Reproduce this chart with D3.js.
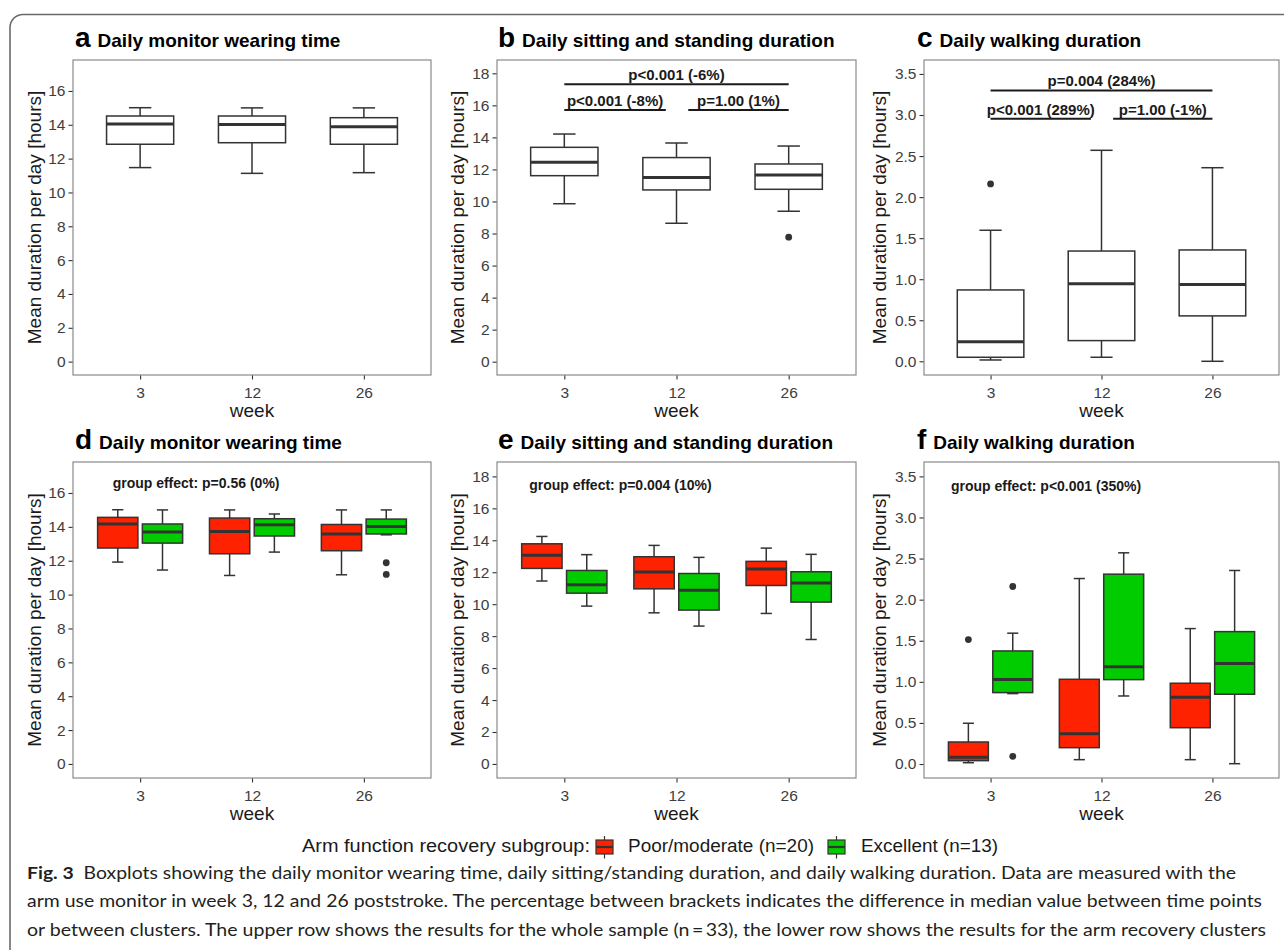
<!DOCTYPE html>
<html><head><meta charset="utf-8">
<script src="https://cdn.jsdelivr.net/npm/d3@7"></script>
<style>
body{margin:0;background:#fff;}
svg{display:block;font-family:"Liberation Sans",Arial,sans-serif;}
</style></head>
<body><svg id="c" width="1284" height="950"></svg>
<script>
// ---------- data ----------
const weeks = ["3","12","26"];
const groupNames = ["Poor/moderate (n=20)","Excellent (n=13)"];
const groupColors = ["#FF2200","#00CC00"];
// box stats: [lower whisker, Q1, median, Q3, upper whisker]
const wearAll = [[11.47,12.85,14.05,14.52,15.01],[11.13,12.94,14.01,14.52,15.0],[11.17,12.85,13.89,14.42,15.0]];
const wearAllOut = [[],[],[]];
const sitAll = [[9.86,11.61,12.45,13.38,14.21],[8.64,10.72,11.49,12.74,13.65],[9.39,10.76,11.65,12.34,13.46]];
const sitAllOut = [[],[],[7.77]];
const walkAll = [[0.016,0.049,0.239,0.869,1.596],[0.049,0.252,0.945,1.343,2.57],[0.0,0.553,0.934,1.356,2.358]];
const walkAllOut = [[2.16],[],[]];

const wearPoor = [[11.92,12.75,14.17,14.56,15.01],[11.13,12.41,13.73,14.52,15.0],[11.17,12.59,13.58,14.14,15.0]];
const wearPoorOut = [[],[],[]];
const wearExc = [[11.45,13.04,13.70,14.17,15.0],[12.51,13.46,14.13,14.48,14.76],[13.53,13.58,14.02,14.46,15.0]];
const wearExcOut = [[],[],[11.88,11.19]];
const sitPoor = [[11.45,12.24,13.07,13.78,14.24],[9.46,10.96,12.01,12.97,13.68],[9.42,11.17,12.20,12.68,13.51]];
const sitPoorOut = [[],[],[]];
const sitExc = [[9.88,10.69,11.22,12.11,13.10],[8.63,9.63,10.88,11.92,12.93],[7.79,10.13,11.32,12.03,13.12]];
const sitExcOut = [[],[],[]];
const walkPoor = [[0.016,0.041,0.081,0.268,0.496],[0.053,0.199,0.369,1.031,2.257],[0.053,0.442,0.812,0.983,1.648]];
const walkPoorOut = [[1.514],[],[]];
const walkExc = [[0.857,0.869,1.027,1.376,1.592],[0.828,1.027,1.185,2.31,2.57],[0.004,0.849,1.222,1.611,2.355]];
const walkExcOut = [[2.16,0.094],[],[]];

// significance brackets: [label, y-value (hours)]
const sitBrackets = [["p<0.001 (-6%)",17.32],["p<0.001 (-8%)",15.71],["p=1.00 (1%)",15.71]];
const walkBrackets = [["p=0.004 (284%)",3.30],["p<0.001 (289%)",2.955],["p=1.00 (-1%)",2.955]];
const groupEffects = ["group effect: p=0.56 (0%)","group effect: p=0.004 (10%)","group effect: p<0.001 (350%)"];

const ticksWear = [0,2,4,6,8,10,12,14,16];
const ticksSit = [0,2,4,6,8,10,12,14,16,18];
const ticksWalk = [0,0.5,1,1.5,2,2.5,3,3.5];

const titles = [["a","Daily monitor wearing time"],["b","Daily sitting and standing duration"],["c","Daily walking duration"],
                ["d","Daily monitor wearing time"],["e","Daily sitting and standing duration"],["f","Daily walking duration"]];
const legendTitle = "Arm function recovery subgroup:";
const captionLines = [
 ["Fig. 3","  Boxplots showing the daily monitor wearing time, daily sitting/standing duration, and daily walking duration. Data are measured with the"],
 ["","arm use monitor in week 3, 12 and 26 poststroke. The percentage between brackets indicates the difference in median value between time points"],
 ["","or between clusters. The upper row shows the results for the whole sample (n\u2009=\u200933), the lower row shows the results for the arm recovery clusters"]
];

// ---------- drawing ----------
const svg = d3.select("#c");
svg.append("rect").attr("width",1284).attr("height",950).attr("fill","#fff");
svg.append("rect").attr("x",10).attr("y",14.5).attr("width",1300).attr("height",1000).attr("rx",13)
   .attr("fill","none").attr("stroke","#6a6a6a").attr("stroke-width",1.6);

const cols = [[73,431],[497,856],[924,1279]];
const rows = [[60,375],[462,778]];
const ink = "#333333";

function panel(ci, ri, domain, ticks, fmt, series, outs, colors, titleIdx){
  const [L,R] = cols[ci], [T,B] = rows[ri];
  const g = svg.append("g");
  const x = d3.scalePoint().domain(weeks).range([L,R]).padding(0.6);
  const step = x.step();
  const y = d3.scaleLinear().domain(domain).range([B,T]);

  const ya = g.append("g").attr("transform",`translate(${L},0)`)
    .call(d3.axisLeft(y).tickValues(ticks).tickSize(4.5).tickPadding(3).tickFormat(fmt));
  const xa = g.append("g").attr("transform",`translate(0,${B})`)
    .call(d3.axisBottom(x).tickSize(4.5).tickPadding(4));
  [ya,xa].forEach(a=>{
    a.select(".domain").remove();
    a.selectAll(".tick line").attr("stroke",ink).attr("stroke-width",1.1);
    a.selectAll(".tick text").attr("fill","#3d3d3d").style("font-size","15.5px").style("font-family","Liberation Sans, Arial, sans-serif");
  });
  xa.selectAll(".tick text").attr("dy","0.95em");

  g.append("rect").attr("x",L).attr("y",T).attr("width",R-L).attr("height",B-T)
    .attr("fill","none").attr("stroke","#8a8a8a").attr("stroke-width",1.2);

  const n = series.length;
  const offs = n===1 ? [0] : [-0.2,0.2];
  const bw = (n===1 ? 0.6 : 0.36)*step;
  const cw = (n===1 ? 0.2 : 0.1)*step;
  series.forEach((ser,si)=>{
    ser.forEach((s,wi)=>{
      const cx = x(weeks[wi]) + offs[si]*step;
      const [lo,q1,md,q3,hi] = s;
      const bg = g.append("g");
      bg.append("line").attr("x1",cx).attr("x2",cx).attr("y1",y(hi)).attr("y2",y(q3));
      bg.append("line").attr("x1",cx).attr("x2",cx).attr("y1",y(q1)).attr("y2",y(lo));
      bg.append("line").attr("x1",cx-cw/2).attr("x2",cx+cw/2).attr("y1",y(hi)).attr("y2",y(hi));
      bg.append("line").attr("x1",cx-cw/2).attr("x2",cx+cw/2).attr("y1",y(lo)).attr("y2",y(lo));
      bg.selectAll("line").attr("stroke",ink).attr("stroke-width",1.5);
      bg.append("rect").attr("x",cx-bw/2).attr("y",y(q3)).attr("width",bw).attr("height",y(q1)-y(q3))
        .attr("fill",colors[si]).attr("stroke",ink).attr("stroke-width",1.5);
      bg.append("line").attr("x1",cx-bw/2).attr("x2",cx+bw/2).attr("y1",y(md)).attr("y2",y(md))
        .attr("stroke",ink).attr("stroke-width",3);
      outs[si][wi].forEach(v=>{
        bg.append("circle").attr("cx",cx).attr("cy",y(v)).attr("r",3.4).attr("fill",ink);
      });
    });
  });

  g.append("text").attr("x",(L+R)/2).attr("y",B+42).attr("text-anchor","middle")
    .style("font-size","19px").attr("fill","#1a1a1a").text("week");
  const ax = [40.5,463.5,886][ci];
  g.append("text").attr("transform",`translate(${ax},${(T+B)/2}) rotate(-90)`).attr("text-anchor","middle")
    .style("font-size","19px").attr("fill","#1a1a1a").text("Mean duration per day [hours]");

  const [lt, tt] = titles[titleIdx];
  const tx = [75,498,917][ci];
  const ty = ri===0 ? 47 : 449;
  const tg = g.append("text").attr("x",tx).attr("y",ty).attr("fill","#000").style("font-weight","bold");
  tg.append("tspan").style("font-size","28px").text(lt);
  tg.append("tspan").attr("dx",7).style("font-size","19px").text(tt);
  return {g,x,y,step};
}

const fmt0 = d3.format("d"), fmt1 = d3.format(".1f");

panel(0,0,[-0.79,17.83],ticksWear,fmt0,[wearAll],[wearAllOut],["#fff"],0);
const pb = panel(1,0,[-0.83,18.83],ticksSit,fmt0,[sitAll],[sitAllOut],["#fff"],1);
const pc = panel(2,0,[-0.167,3.67],ticksWalk,fmt1,[walkAll],[walkAllOut],["#fff"],2);
const pd = panel(0,1,[-0.83,17.83],ticksWear,fmt0,[wearPoor,wearExc],[wearPoorOut,wearExcOut],groupColors,3);
const pe = panel(1,1,[-0.88,18.9],ticksSit,fmt0,[sitPoor,sitExc],[sitPoorOut,sitExcOut],groupColors,4);
const pf = panel(2,1,[-0.17,3.675],ticksWalk,fmt1,[walkPoor,walkExc],[walkPoorOut,walkExcOut],groupColors,5);

function brackets(p, br){
  const spans = [[0,2],[0,0.905],[1.105,2]];
  br.forEach((b,i)=>{
    const x0 = p.x(weeks[0]) + spans[i][0]*p.step, x1 = p.x(weeks[0]) + spans[i][1]*p.step;
    const yy = p.y(b[1]);
    p.g.append("line").attr("x1",x0).attr("x2",x1).attr("y1",yy).attr("y2",yy)
      .attr("stroke","#1a1a1a").attr("stroke-width",2);
    p.g.append("text").attr("x",(x0+x1)/2).attr("y",yy-4).attr("text-anchor","middle")
      .style("font-size","15px").style("font-weight","bold").attr("fill","#1a1a1a").text(b[0]);
  });
}
brackets(pb, sitBrackets);
brackets(pc, walkBrackets);

[[pd,16.31],[pe,17.17],[pf,3.325]].forEach(([p,v],i)=>{
  p.g.append("text").attr("x",p.x(weeks[0])+0.5*p.step).attr("y",p.y(v)).attr("text-anchor","middle")
    .style("font-size","14px").style("font-weight","bold").attr("fill","#1a1a1a").text(groupEffects[i]);
});

// legend
const lg = svg.append("g");
lg.append("text").attr("x",302).attr("y",852).style("font-size","17.5px").attr("fill","#1a1a1a")
  .attr("textLength",288).attr("lengthAdjust","spacingAndGlyphs").text(legendTitle);
[[596,628,186],[828,861,137]].forEach(([kx,tx,tl],i)=>{
  lg.append("line").attr("x1",kx+8.5).attr("x2",kx+8.5).attr("y1",836).attr("y2",858.5).attr("stroke",ink).attr("stroke-width",1.2);
  lg.append("rect").attr("x",kx).attr("y",840).attr("width",17).attr("height",14).attr("fill",groupColors[i]).attr("stroke",ink).attr("stroke-width",1.2);
  lg.append("line").attr("x1",kx).attr("x2",kx+17).attr("y1",847).attr("y2",847).attr("stroke",ink).attr("stroke-width",2.2);
  lg.append("text").attr("x",tx).attr("y",852).style("font-size","17.5px").attr("fill","#1a1a1a")
    .attr("textLength",tl).attr("lengthAdjust","spacingAndGlyphs").text(groupNames[i]);
});

// caption
const capEnds = [1236,1262,1266];
captionLines.forEach((ln,i)=>{
  const t = svg.append("text").attr("x",27).attr("y",879+i*28.3).style("font-family","Lato, 'Open Sans', sans-serif")
    .style("font-size","17.5px").attr("fill","#231f20").attr("textLength",capEnds[i]-27).attr("lengthAdjust","spacingAndGlyphs");
  if(ln[0]) t.append("tspan").style("font-weight","bold").text(ln[0]);
  t.append("tspan").attr("xml:space","preserve").style("white-space","pre").text(ln[1]);
});
</script></body></html>
